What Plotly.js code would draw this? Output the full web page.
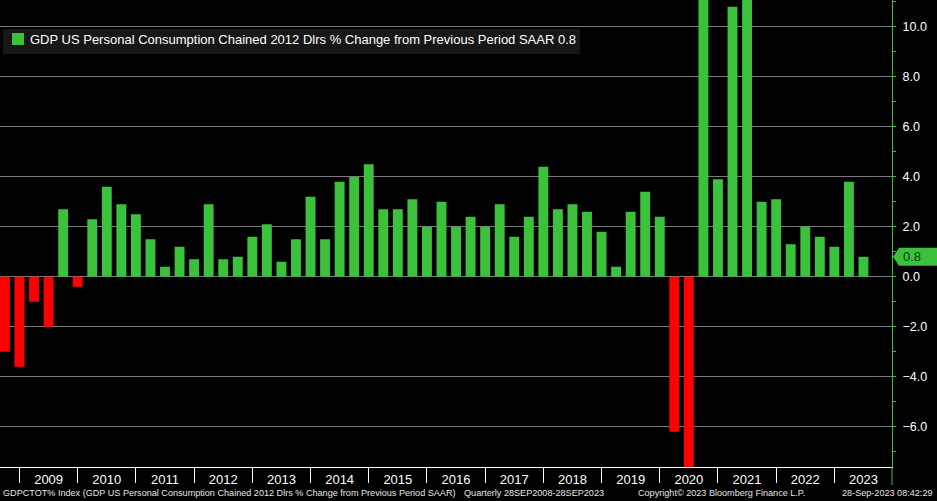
<!DOCTYPE html>
<html>
<head>
<meta charset="utf-8">
<script src="https://cdn.plot.ly/plotly-3.0.1.min.js"></script>
<style>
  html, body { margin: 0; padding: 0; background: #000; }
  #chart { width: 937px; height: 501px; }
</style>
</head>
<body>
<div id="chart"></div>
<script>
(function () {
  'use strict';

  // --- Data: real PCE, % change from previous period SAAR, quarterly ---
  var startYear = 2008;
  var startQuarter = 3;
  var pceChange = [
    -3.0, -3.6, -1.0, -2.0, 2.7, -0.4, 2.3, 3.6, 2.9, 2.5,
    1.5, 0.4, 1.2, 0.7, 2.9, 0.7, 0.8, 1.6, 2.1, 0.6,
    1.5, 3.2, 1.5, 3.8, 4.0, 4.5, 2.7, 2.7, 3.1, 2.0,
    3.0, 2.0, 2.4, 2.0, 2.9, 1.6, 2.4, 4.4, 2.7, 2.9,
    2.6, 1.8, 0.4, 2.6, 3.4, 2.4, -6.2, -32.1, 41.4, 3.9,
    10.8, 14.1, 3.0, 3.1, 1.3, 2.0, 1.6, 1.2, 3.8, 0.8
  ];
  var yearLabels = ['2009', '2010', '2011', '2012', '2013', '2014', '2015', '2016',
                    '2017', '2018', '2019', '2020', '2021', '2022', '2023'];
  var yTickVals = [-6, -4, -2, 0, 2, 4, 6, 8, 10];

  var legendText = 'GDP US Personal Consumption Chained 2012 Dlrs % Change from Previous Period SAAR';
  var footerLeft = 'GDPCTOT% Index (GDP US Personal Consumption Chained 2012 Dlrs % Change from Previous Period SAAR)';
  var footerRange = 'Quarterly 28SEP2008-28SEP2023';
  var footerCopy = 'Copyright\u00a9 2023 Bloomberg Finance L.P.';
  var footerStamp = '28-Sep-2023 08:42:29';

  // --- Theme ---
  var fontFamily = '"Liberation Sans", Arial, sans-serif';
  var green = '#3cc13c';
  var red = '#ff0000';
  var gridColor = '#7a7a7a';
  var W = 937, H = 501;
  var margin = { t: 0, r: 45, b: 34, l: 0 };
  var plotW = W - margin.l - margin.r;
  var plotH = H - margin.t - margin.b;
  var xRange = [-0.34, 60.96];
  var yRange = [-7.61, 11.07];

  // quarter labels, one per bar
  var quarters = pceChange.map(function (_, i) {
    var q = startQuarter - 1 + i;
    return (startYear + Math.floor(q / 4)) + ' Q' + ((q % 4) + 1);
  });
  var xIdx = pceChange.map(function (_, i) { return i; });

  // year label sits on Q2 bar, boundaries on Q4 bars
  var yearTickVals = yearLabels.map(function (y) { return quarters.indexOf(y + ' Q2'); });
  var firstBoundary = quarters.indexOf(startYear + ' Q4');

  // pixel helpers for paper coords
  function px(x) { return (x - margin.l) / plotW; }
  function py(y) { return 1 - (y - margin.t) / plotH; }
  function yv(v) { return (v - yRange[0]) / (yRange[1] - yRange[0]); }

  var lastVal = pceChange[pceChange.length - 1];

  var traces = [
    {
      x: xIdx,
      y: pceChange,
      type: 'bar',
      width: 0.68,
      marker: {
        color: pceChange.map(function (v) { return v < 0 ? red : green; }),
        line: { width: 0 }
      },
      customdata: quarters,
      textposition: 'none',
      hovertemplate: '%{customdata}: %{y:.1f}<extra></extra>',
      showlegend: false
    },
    {
      // triangle major tick markers on the right axis
      x: yTickVals.map(function () { return xRange[1] + 0.24; }),
      y: yTickVals,
      type: 'scatter',
      mode: 'markers',
      marker: { symbol: 'triangle-right', size: 7, color: green },
      cliponaxis: false,
      hoverinfo: 'skip',
      showlegend: false
    }
  ];

  var tagY0 = yv(lastVal) - 9 / plotH;
  var tagY1 = yv(lastVal) + 9 / plotH;
  var tagYm = yv(lastVal);

  var shapes = [
    // legend background
    { type: 'rect', xref: 'paper', yref: 'paper', x0: px(3), x1: px(580), y0: py(54), y1: py(29),
      fillcolor: '#171717', line: { width: 0 } },
    // legend swatch
    { type: 'rect', xref: 'paper', yref: 'paper', x0: px(12), x1: px(24), y0: py(45), y1: py(33),
      fillcolor: green, line: { width: 0 } },
    // last value tag
    { type: 'path', xref: 'paper', yref: 'paper',
      path: 'M ' + px(893) + ' ' + tagYm +
            ' L ' + px(899) + ' ' + tagY1 +
            ' L ' + px(937) + ' ' + tagY1 +
            ' L ' + px(937) + ' ' + tagY0 +
            ' L ' + px(899) + ' ' + tagY0 + ' Z',
      fillcolor: green, line: { width: 0 } },
    // axis line runs a bit below the plot
    { type: 'line', xref: 'paper', yref: 'paper', x0: 1, x1: 1, y0: 0, y1: py(485),
      line: { color: green, width: 1 } }
  ];

  var footerFont = { family: fontFamily, size: 9.1, color: '#e6e6e6' };
  var annotations = [
    { text: legendText + ' ' + lastVal.toFixed(1), xref: 'paper', yref: 'paper',
      x: px(28), y: py(40), xanchor: 'left', yanchor: 'middle', showarrow: false,
      font: { family: fontFamily, size: 13, color: '#ffffff' } },
    { text: lastVal.toFixed(1), xref: 'paper', yref: 'paper',
      x: px(901), y: tagYm, xanchor: 'left', yanchor: 'middle', showarrow: false,
      font: { family: fontFamily, size: 13, color: '#0d3d0d' } },
    { text: footerLeft, xref: 'paper', yref: 'paper', x: px(1), y: py(493),
      xanchor: 'left', yanchor: 'middle', showarrow: false, font: footerFont },
    { text: footerRange, xref: 'paper', yref: 'paper', x: px(606), y: py(493),
      xanchor: 'right', yanchor: 'middle', showarrow: false, font: footerFont },
    { text: footerCopy, xref: 'paper', yref: 'paper', x: px(636), y: py(493),
      xanchor: 'left', yanchor: 'middle', showarrow: false, font: footerFont },
    { text: footerStamp, xref: 'paper', yref: 'paper', x: px(935), y: py(493),
      xanchor: 'right', yanchor: 'middle', showarrow: false, font: footerFont }
  ];

  var layout = {
    width: W,
    height: H,
    margin: margin,
    paper_bgcolor: '#000000',
    plot_bgcolor: '#000000',
    font: { family: fontFamily, size: 13, color: '#ffffff' },
    showlegend: false,
    bargap: 0.32,
    xaxis: {
      type: 'linear',
      range: xRange,
      fixedrange: true,
      showgrid: false,
      zeroline: false,
      showline: true,
      linecolor: '#ffffff',
      linewidth: 1,
      tickmode: 'array',
      tickvals: yearTickVals,
      ticktext: yearLabels,
      ticks: '',
      tickfont: { family: fontFamily, size: 13, color: '#ffffff' },
      minor: {
        tick0: firstBoundary,
        dtick: 4,
        ticks: 'outside',
        ticklen: 15,
        tickwidth: 1,
        tickcolor: '#ffffff',
        showgrid: false
      }
    },
    yaxis: {
      side: 'right',
      range: yRange,
      fixedrange: true,
      showgrid: true,
      gridcolor: gridColor,
      gridwidth: 1,
      zeroline: false,
      showline: true,
      linecolor: green,
      linewidth: 1,
      tickmode: 'array',
      tickvals: yTickVals,
      tickformat: '.1f',
      ticks: 'outside',
      ticklen: 7,
      tickcolor: 'rgba(0,0,0,0)',
      tickfont: { family: fontFamily, size: 12.5, color: '#ffffff' },
      minor: {
        dtick: 1,
        ticks: 'outside',
        ticklen: 3,
        tickwidth: 1,
        tickcolor: green,
        showgrid: false
      }
    },
    shapes: shapes,
    annotations: annotations,
    hovermode: 'closest'
  };

  Plotly.newPlot('chart', traces, layout, { displayModeBar: false });
})();
</script>
</body>
</html>
